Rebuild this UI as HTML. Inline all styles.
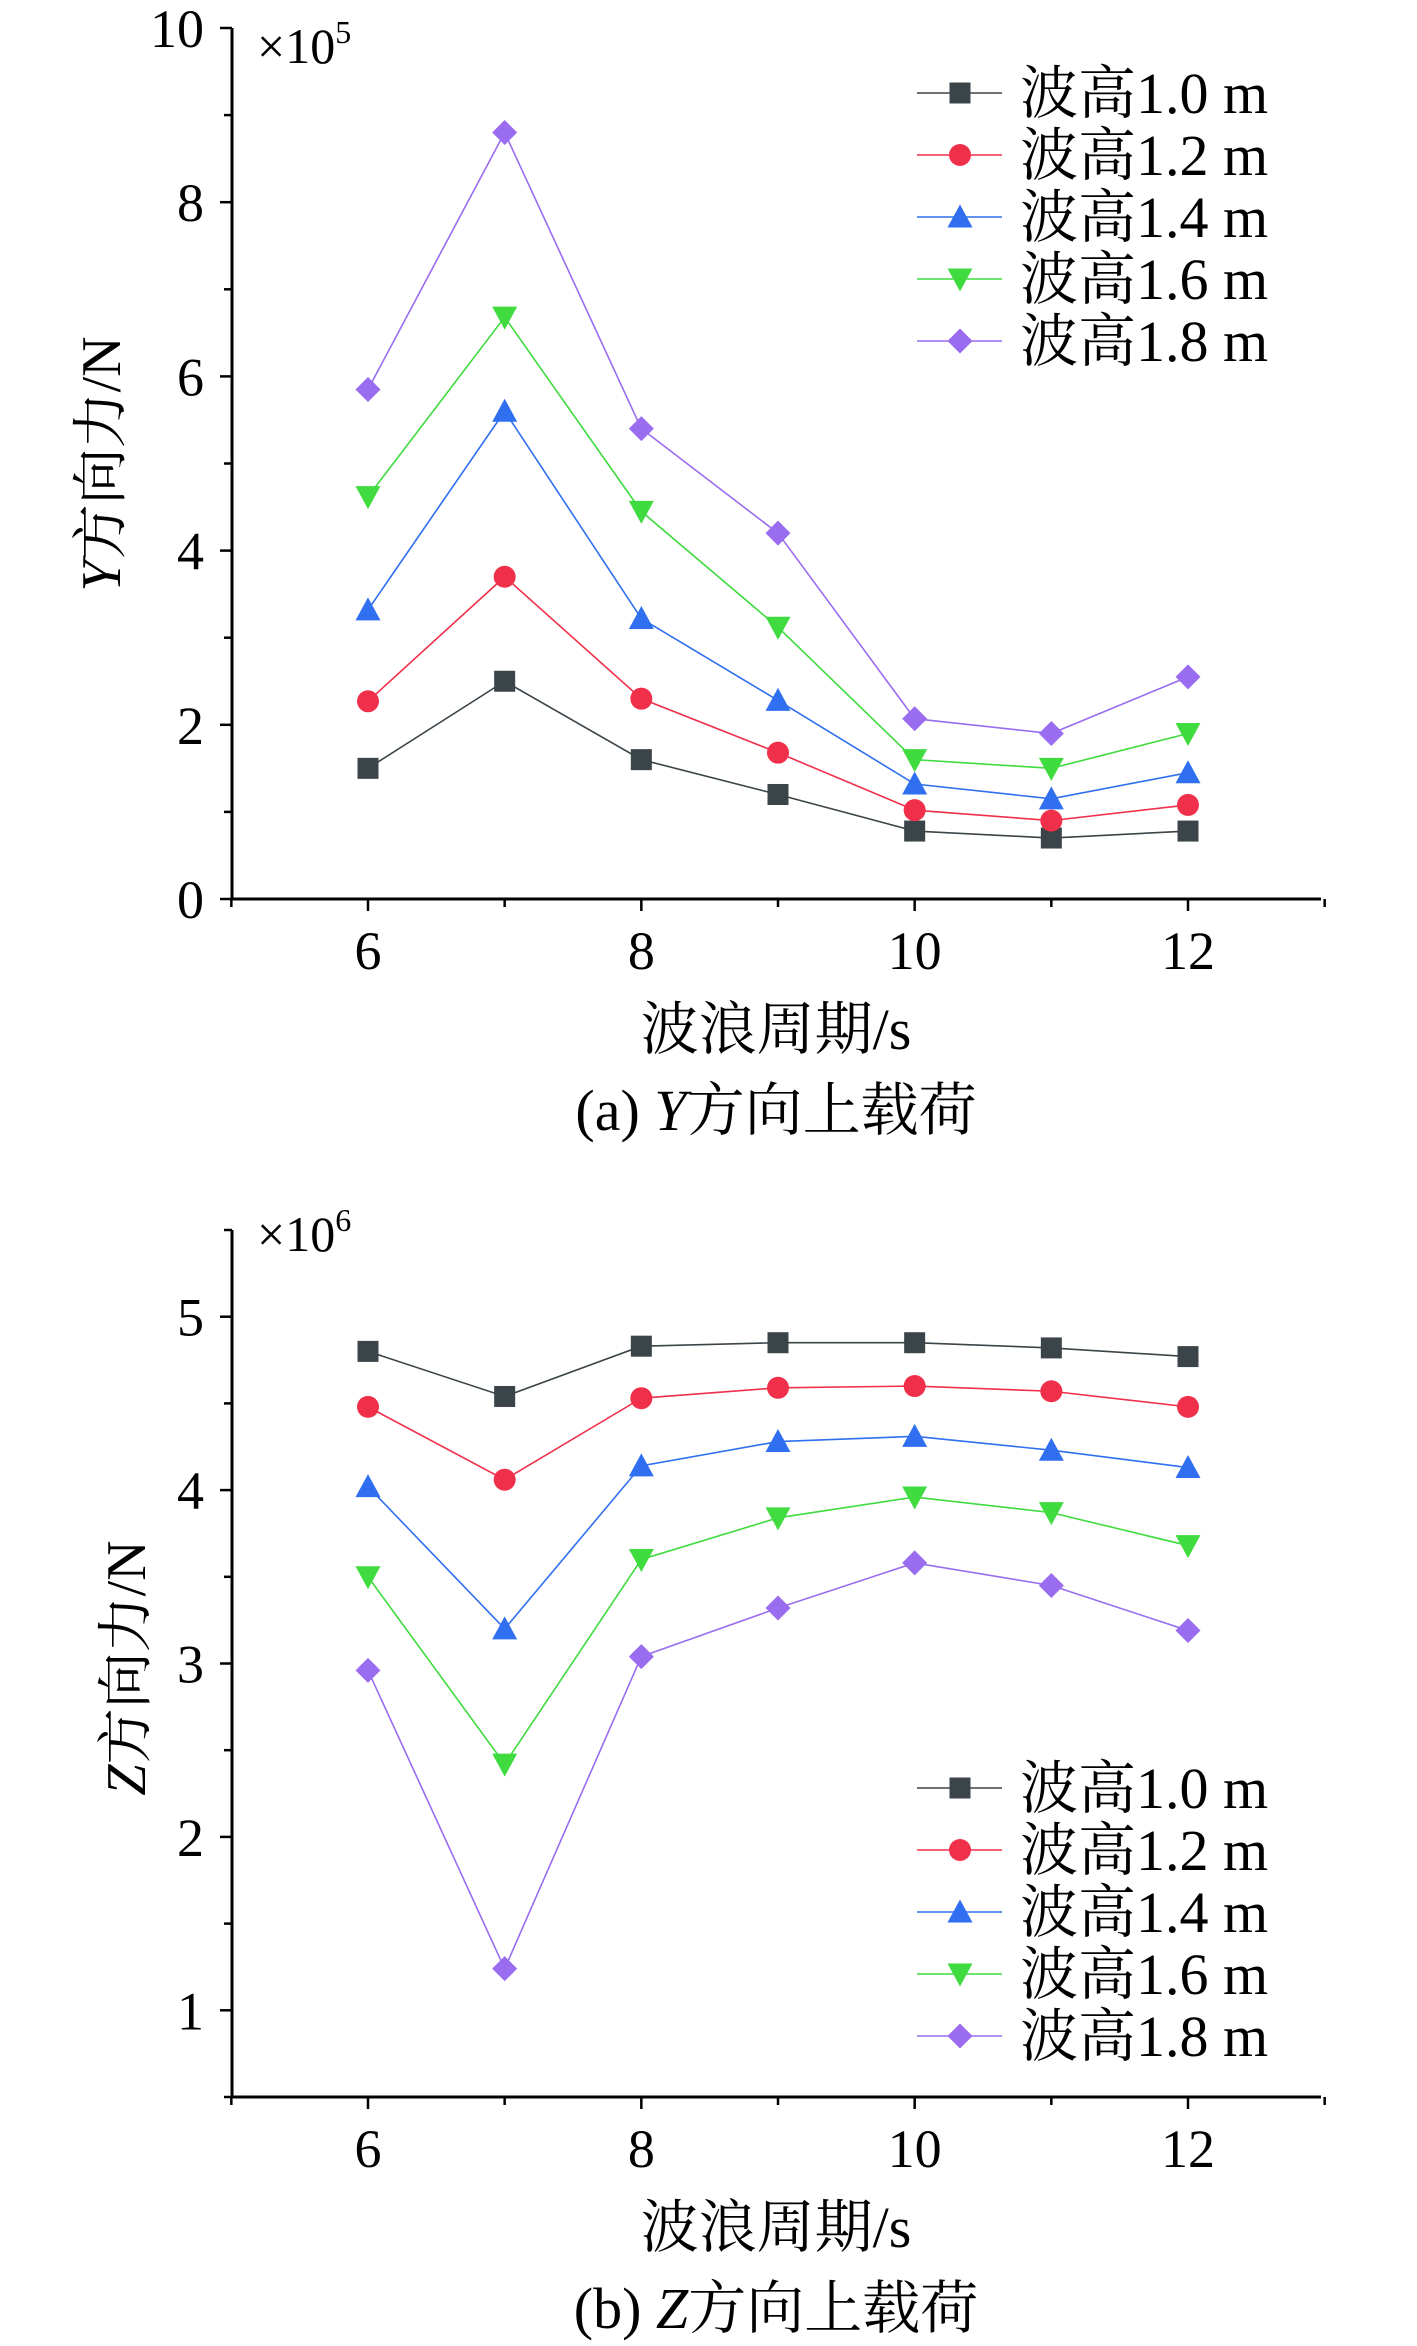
<!DOCTYPE html>
<html><head><meta charset="utf-8">
<style>
html,body{margin:0;padding:0;background:#fff;}
svg{display:block;font-family:"Liberation Serif","Noto Serif CJK SC",serif;}
</style></head>
<body>
<svg id="svg" width="1417" height="2346" viewBox="0 0 1417 2346" xmlns="http://www.w3.org/2000/svg"></svg>
<script>
const periods = [6, 7, 8, 9, 10, 11, 12];
const seriesNames = ["波高1.0 m", "波高1.2 m", "波高1.4 m", "波高1.6 m", "波高1.8 m"];
const yForce = [
  [1.5, 2.5, 1.6, 1.2, 0.78, 0.7, 0.78],
  [2.27, 3.7, 2.3, 1.68, 1.02, 0.9, 1.08],
  [3.32, 5.6, 3.22, 2.28, 1.32, 1.15, 1.45],
  [4.62, 6.68, 4.45, 3.12, 1.6, 1.5, 1.9],
  [5.85, 8.8, 5.4, 4.2, 2.07, 1.9, 2.55]
];
const zForce = [
  [4.8, 4.54, 4.83, 4.85, 4.85, 4.82, 4.77],
  [4.48, 4.06, 4.53, 4.59, 4.6, 4.57, 4.48],
  [4.02, 3.2, 4.14, 4.28, 4.31, 4.23, 4.13],
  [3.5, 2.42, 3.6, 3.84, 3.96, 3.87, 3.68],
  [2.96, 1.24, 3.04, 3.32, 3.58, 3.45, 3.19]
];
const xTicks = [6, 8, 10, 12];
const yTicksA = [0, 2, 4, 6, 8, 10];
const yTicksB = [1, 2, 3, 4, 5];

const colors = ["#3b4449", "#f0304a", "#2f6ff0", "#3fdb3f", "#9a6cf0"];
const markers = ["square", "circle", "up", "down", "diamond"];
const NS = "http://www.w3.org/2000/svg";
const svg = document.getElementById("svg");
function el(tag, attrs, parent, text) {
  const e = document.createElementNS(NS, tag);
  for (const k in attrs) e.setAttribute(k, attrs[k]);
  if (text !== undefined) e.textContent = text;
  (parent || svg).appendChild(e);
  return e;
}
function marker(g, type, x, y, c) {
  const s = 10.5;
  let m;
  if (type === "square") m = el("rect", {x: x - s, y: y - s, width: 2 * s, height: 2 * s, fill: c}, g);
  else if (type === "circle") m = el("circle", {cx: x, cy: y, r: s + 0.5, fill: c}, g);
  else if (type === "up") m = el("polygon", {points: `${x},${y - s - 2} ${x - s - 2},${y + s} ${x + s + 2},${y + s}`, fill: c}, g);
  else if (type === "down") m = el("polygon", {points: `${x},${y + s + 2} ${x - s - 2},${y - s} ${x + s + 2},${y - s}`, fill: c}, g);
  else m = el("polygon", {points: `${x},${y - s - 2} ${x + s + 2},${y} ${x},${y + s + 2} ${x - s - 2},${y}`, fill: c}, g);
  
  
  return m;
}
function chart(cfg) {
  const g = el("g", {});
  
  
  const X0 = 232, XR = 1321;
  const xs = v => 368 + (v - 6) * (1188 - 368) / 6;
  const ys = v => cfg.yBot + (v - cfg.yMin) * (cfg.yTop - cfg.yBot) / (cfg.yMax - cfg.yMin);
  const axis = el("path", {d: `M${X0} ${ys(cfg.yMax)} V${cfg.yBot} H${XR}`, stroke: "#000", "stroke-width": 3, fill: "none"}, g);
  
  
  for (let v = 5; v <= 13; v++) {
    const t = el("line", {x1: xs(v), x2: xs(v), y1: cfg.yBot, y2: cfg.yBot + (v % 2 === 0 ? 12 : 8), stroke: "#000", "stroke-width": 2.5}, g);
    
    
  }
  xTicks.forEach(v => {
    const t = el("text", {x: xs(v), y: cfg.yBot + 70, "font-size": 54, "text-anchor": "middle"}, g, String(v));
    
    
  });
  for (let v = cfg.yMin; v <= cfg.yMax + 1e-9; v += cfg.minor) {
    const isMaj = cfg.yTicks.some(t => Math.abs(t - v) < 1e-6);
    const t = el("line", {x1: X0 - (isMaj ? 12 : 8), x2: X0, y1: ys(v), y2: ys(v), stroke: "#000", "stroke-width": 2.5}, g);
    
    
  }
  cfg.yTicks.forEach(v => {
    const t = el("text", {x: 204, y: ys(v) + 19, "font-size": 54, "text-anchor": "end"}, g, String(v));
    
    
  });
  const mult = el("text", {x: 257, y: cfg.multY, "font-size": 50}, g);
  
  
  mult.innerHTML = `×10<tspan font-size="32" dy="-20">${cfg.exp}</tspan>`;
  const yt = el("text", {transform: `translate(${cfg.ytX},${cfg.ytY}) rotate(-90)`, "font-size": 56, "text-anchor": "middle"}, g);
  
  
  yt.innerHTML = `<tspan font-style="italic">${cfg.letter}</tspan>方向力/N`;
  const xt = el("text", {x: 776, y: cfg.yBot + 150, "font-size": 58, "text-anchor": "middle"}, g, "波浪周期/s");
  
  
  const cap = el("text", {x: 776, y: cfg.capY, "font-size": 58, "text-anchor": "middle"}, g);
  
  
  cap.innerHTML = `${cfg.capPre} <tspan font-style="italic">${cfg.letter}</tspan>方向上载荷`;
  cfg.data.forEach((vals, i) => {
    const sg = el("g", {}, g);
    
    
    const pts = vals.map((v, j) => `${xs(periods[j])},${ys(v)}`).join(" ");
    const pl = el("polyline", {points: pts, fill: "none", stroke: colors[i], "stroke-width": 1.6}, sg);
    
    
    vals.forEach((v, j) => marker(sg, markers[i], xs(periods[j]), ys(v), colors[i]));
  });
  seriesNames.forEach((n, i) => {
    const y = cfg.legY + i * 62;
    const lg = el("g", {}, g);
    
    
    el("line", {x1: 917, x2: 1002, y1: y, y2: y, stroke: colors[i], "stroke-width": 1.6}, lg);
    marker(lg, markers[i], 960, y, colors[i]);
    el("text", {x: 1020, y: y + 20, "font-size": 58}, lg, n);
  });
}
chart({name: "chart-y-force", data: yForce, yMin: 0, yMax: 10, yBot: 899, yTop: 28, minor: 1, yTicks: yTicksA,
  exp: 5, letter: "Y", ytX: 120, ytY: 464, capY: 1130, capPre: "(a)", legY: 93, multY: 63});
chart({name: "chart-z-force", data: zForce, yMin: 0.5, yMax: 5.5, yBot: 2097, yTop: 1230, minor: 0.5, yTicks: yTicksB,
  exp: 6, letter: "Z", ytX: 145, ytY: 1668, capY: 2328, capPre: "(b)", legY: 1788, multY: 1251});
</script>
</body></html>
